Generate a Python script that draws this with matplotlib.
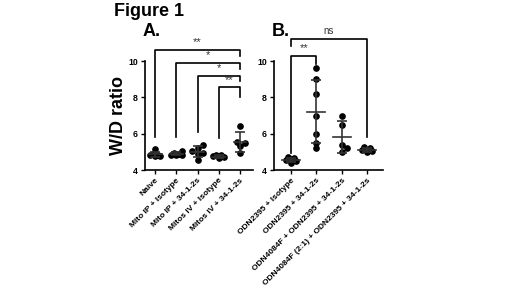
import numpy as np
import matplotlib
matplotlib.use("Agg")
import matplotlib.pyplot as plt

plt.rcParams['font.family'] = ['Liberation Sans', 'DejaVu Sans']

# panel A
labels_a = ["Naive", "Mito IP + Isotype", "Mito IP + 34-1-2s",
            "Mitos IV + Isotype", "Mitos IV + 34-1-2s"]
vals_a = [
    [4.75, 4.8, 4.85, 4.9, 5.15, 4.78],
    [4.8, 4.85, 4.9, 4.95, 5.05, 4.82],
    [5.4, 5.2, 5.05, 4.95, 4.9, 4.55],
    [4.7, 4.75, 4.8, 4.8, 4.65],
    [6.4, 5.55, 5.5, 5.3, 4.95],
]
# (left group, right group, label, bracket height, left leg end, right leg end)
sig_a = [(0, 4, "**", 10.6, 5.8, 10.25), (1, 4, "*", 9.9, 5.8, 9.55),
         (2, 4, "*", 9.2, 6.1, 8.9), (3, 4, "**", 8.55, 5.75, 8.0)]

# panel B
labels_b = ["ODN2395 + Isotype", "ODN2395 + 34-1-2s",
            "ODN4084F + ODN2395 + 34-1-2s", "ODN4084F (2:1) + ODN2395 + 34-1-2s"]
vals_b = [
    [4.7, 4.65, 4.6, 4.55, 4.5, 4.4],
    [9.6, 9.0, 8.2, 7.0, 6.0, 5.5, 5.2],
    [7.0, 6.5, 5.4, 5.2, 5.0],
    [5.25, 5.2, 5.1, 5.0, 5.05],
]
sig_b = [(0, 1, "**", 10.3, 4.95, 9.85), (0, 3, "ns", 11.2, 10.85, 5.8)]


def swarm(vals, px_x, px_y, d=5.0, step=2.6, kmax=5):
    # compact beeswarm offsets (overlap allowed), in category units
    order = np.argsort(vals)
    placed = []
    offs = np.zeros(len(vals))
    for i in order:
        y = vals[i] * px_y
        best, best_d = 0.0, -1
        for k in range(kmax):
            cand = 0 if k == 0 else ((k + 1) // 2) * (1 if k % 2 else -1) * step
            dmin = min([np.hypot(cand - px, y - py) for px, py in placed] or [99])
            if dmin >= d:
                best = cand
                break
            if dmin > best_d:
                best, best_d = cand, dmin
        placed.append((best, y))
        offs[i] = best / px_x
    return offs


def panel(ax, labels, vals, sig, px_x, px_y, xlim, mw):
    for i, v in enumerate(vals):
        v = np.array(v)
        ax.plot(i + swarm(v, px_x, px_y), v, 'o', color='black', ms=3.8,
                clip_on=False, zorder=3)
        m, s = v.mean(), v.std(ddof=1)
        ax.plot([i - mw, i + mw], [m, m], color='#333333', lw=1.2, zorder=4)
        ax.errorbar(i, m, yerr=s, color='#333333', lw=1.2, capsize=3.5,
                    capthick=1.2, zorder=4)
    for a, b, t, h, low_a, low_b in sig:
        ax.plot([a, a, b, b], [low_a, h, h, low_b],
                color='black', lw=1.2, clip_on=False)
        ax.text((a + b) / 2, h + 0.15, t, ha='center', va='bottom',
                fontsize=7 if t == "ns" else 8, color='#333333', clip_on=False)
    ax.set_xlim(*xlim)
    ax.set_ylim(4, 10)
    ax.set_yticks([4, 6, 8, 10])
    ax.set_xticks(range(len(labels)))
    ax.set_xticklabels(labels, rotation=45, ha='right', rotation_mode='anchor',
                       fontsize=6, fontweight='bold')
    for lab in ax.get_yticklabels():
        lab.set_fontsize(6.3)
        lab.set_fontweight('bold')
    for sp in ['top', 'right']:
        ax.spines[sp].set_visible(False)
    for sp in ['left', 'bottom']:
        ax.spines[sp].set_linewidth(1.2)
    ax.tick_params(width=1, length=3, pad=2)


fig = plt.figure(figsize=(5.2, 2.92), dpi=100)
ax_a = fig.add_axes([145 / 520, 1 - 170 / 292, 108 / 520, 109 / 292])
ax_b = fig.add_axes([274 / 520, 1 - 170 / 292, 109 / 520, 109 / 292])

panel(ax_a, labels_a, vals_a, sig_a, 21, 18.2, (-0.48, 4.62), 0.3)
panel(ax_b, labels_b, vals_b, sig_b, 25.3, 18.2, (-0.67, 3.63), 0.35)

ax_a.set_ylabel("W/D ratio", fontsize=13, fontweight='bold', labelpad=1)

fig.text(149 / 520, 1 - 12 / 292, "Figure 1", ha='center', va='center',
         fontsize=13, fontweight='bold')
fig.text(152 / 520, 1 - 32 / 292, "A.", ha='center', va='center',
         fontsize=13, fontweight='bold')
fig.text(281 / 520, 1 - 32 / 292, "B.", ha='center', va='center',
         fontsize=13, fontweight='bold')

fig.savefig("out.png", dpi=100)
